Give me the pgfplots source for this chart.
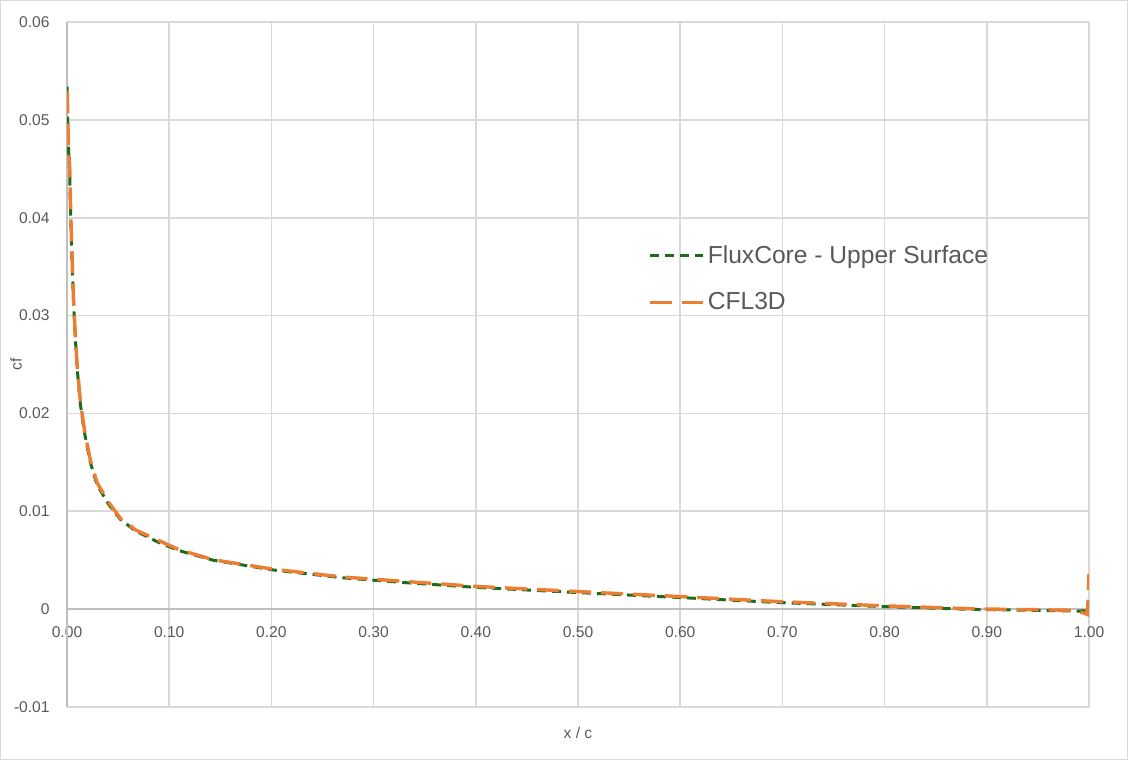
\documentclass[border=0pt]{standalone}
\usepackage{pgfplots}
\pgfplotsset{compat=1.18}
\usepackage{fontspec}
\setmainfont{Liberation Sans}
\definecolor{gridgray}{HTML}{D9D9D9}
\definecolor{axisgray}{HTML}{BFBFBF}
\definecolor{textgray}{HTML}{595959}
\definecolor{fluxgreen}{HTML}{1E6B1E}
\definecolor{cflorange}{HTML}{ED7D31}
\begin{document}
\begin{tikzpicture}
\useasboundingbox (-33.5bp,-26.5bp) rectangle (530.5bp,353.5bp);
\draw[gridgray, line width=0.75bp] (-33.125bp,-26.125bp) rectangle (530.125bp,353.125bp);
\begin{axis}[
  at={(0,0)}, anchor=south west,
  scale only axis, width=511bp, height=342.5bp,
  xmin=0, xmax=1, ymin=-0.01, ymax=0.06,
  axis line style={draw=none},
  scaled x ticks=false, scaled y ticks=false,
  xtick={0,0.1,0.2,0.3,0.4,0.5,0.6,0.7,0.8,0.9,1},
  xticklabels={0.00,0.10,0.20,0.30,0.40,0.50,0.60,0.70,0.80,0.90,1.00},
  ytick={-0.01,0,0.01,0.02,0.03,0.04,0.05,0.06},
  yticklabels={-0.01,0,0.01,0.02,0.03,0.04,0.05,0.06},
  grid=major, major grid style={draw=gridgray, line width=0.8bp},
  extra x ticks={0}, extra x tick labels={},
  extra y ticks={0}, extra y tick labels={},
  extra tick style={grid=major, major grid style={draw=axisgray, line width=0.8bp}},
  major tick length=0pt,
  tick style={draw=none},
  ticklabel style={font=\fontsize{7.8bp}{9bp}\selectfont, text=textgray},
  xticklabel style={anchor=north, inner sep=0pt, yshift=40.45bp},
  yticklabel style={anchor=east, inner sep=0pt, xshift=-8.5bp},
  xlabel={x / c}, ylabel={cf},
  label style={font=\fontsize{7.8bp}{9bp}\selectfont, text=textgray},
  xlabel style={at={([yshift=-13bp]axis description cs:0.5,0)}, anchor=center},
  ylabel style={at={([xshift=-25.5bp]axis description cs:0,0.5)}, anchor=center},
  legend style={at={(axis cs:0.5685,0.0372)}, anchor=north west, draw=none, fill=none,
    font=\fontsize{12.3bp}{14bp}\selectfont, text=textgray, inner sep=0pt,
    row sep=13bp, column sep=1.5bp, nodes={inner sep=0pt, anchor=west}},
  legend cell align=left,
  legend image code/.code={\draw[#1, line cap=butt] (0bp,0bp) -- (26.5bp,0bp);},
]
\addplot[fluxgreen, line width=1.5bp, dash pattern=on 4.5bp off 3bp, line cap=butt] coordinates {
(0.0000,0.0534) (0.0007,0.0500) (0.0015,0.0470) (0.0026,0.0448) (0.0036,0.0401)
(0.0049,0.0357) (0.0062,0.0318) (0.0075,0.0289) (0.0098,0.0248) (0.0130,0.0210)
(0.0170,0.0181) (0.0228,0.0150) (0.0294,0.0127) (0.0408,0.0107) (0.0520,0.0092)
(0.0669,0.0080) (0.0880,0.0069) (0.1090,0.0060) (0.1430,0.0050) (0.2020,0.0040)
(0.2700,0.0032) (0.3320,0.0027) (0.4010,0.00222) (0.4950,0.00172) (0.5970,0.00120)
(0.6910,0.00070) (0.7890,0.00030) (0.8870,-0.00003) (0.9500,-0.00013) (0.9900,-0.00020)
(0.9990,-0.00016) (1.0000,0.0009)
};
\addlegendentry{FluxCore - Upper Surface}
\addplot[cflorange, line width=1.7bp, dash pattern=on 11bp off 5bp, line cap=butt] coordinates {
(0.0003,0.0529) (0.0009,0.0495) (0.0016,0.0470) (0.0027,0.0450) (0.0037,0.0403)
(0.0050,0.0359) (0.0063,0.0320) (0.0076,0.0291) (0.0099,0.0250) (0.0131,0.0212)
(0.0171,0.0183) (0.0229,0.0152) (0.0295,0.0129) (0.0409,0.0109) (0.0521,0.0093)
(0.0670,0.0081) (0.0880,0.0071) (0.1090,0.0061) (0.1430,0.00505) (0.2020,0.00408)
(0.2700,0.00328) (0.3320,0.00282) (0.4010,0.00232) (0.4950,0.00182) (0.5970,0.00130)
(0.6910,0.00080) (0.7890,0.00038) (0.8870,0.00003) (0.9500,-0.00006) (0.9850,-0.00012)
(0.9950,-0.00040) (0.9985,-0.00055) (1.0000,0.0036)
};
\addlegendentry{CFL3D}
\end{axis}
\end{tikzpicture}
\end{document}
